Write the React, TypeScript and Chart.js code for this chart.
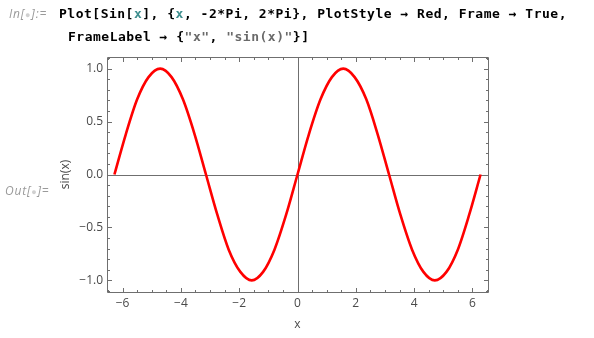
import React, { useEffect, useRef } from 'react';
import { Chart, registerables } from 'chart.js';

Chart.register(...registerables);

// Points
const xValues = [
  -6.28, -5.89, -5.5, -5.11, -4.71, -4.32, -3.93, -3.53, -3.14, -2.75, -2.36, -1.96, -1.57, -1.18, -0.79, -0.39,
  0, 0.39, 0.79, 1.18, 1.57, 1.96, 2.36, 2.75, 3.14, 3.53, 3.93, 4.32, 4.71, 5.11, 5.5, 5.89, 6.28,
];
const sinValues = [
  0, 0.38, 0.71, 0.92, 1.0, 0.92, 0.71, 0.38, 0, -0.38, -0.71, -0.92, -1.0, -0.92, -0.71, -0.38,
  0, 0.38, 0.71, 0.92, 1.0, 0.92, 0.71, 0.38, 0, -0.38, -0.71, -0.92, -1.0, -0.92, -0.71, -0.38, 0,
];

const xMajorTicks = [-6, -4, -2, 0, 2, 4, 6];
const xMinorTicks = [-6.5, -5.5, -5, -4.5, -3.5, -3, -2.5, -1.5, -1, -0.5, 0.5, 1, 1.5, 2.5, 3, 3.5, 4.5, 5, 5.5, 6.5];
const yMajorTicks = [-1, -0.5, 0, 0.5, 1];
const yMinorTicks = [-1.1, -0.9, -0.8, -0.7, -0.6, -0.4, -0.3, -0.2, -0.1, 0.1, 0.2, 0.3, 0.4, 0.6, 0.7, 0.8, 0.9, 1.1];
const xRange = [-6.535, 6.535];
const yRange = [-1.11, 1.11];

const xAxisLabel = 'x';
const yAxisLabel = 'sin(x)';

const FRAME = '#6f6f6f';
const LABEL = '#4a4a4a';

const fmt = (v: number, d: number) => (v < 0 ? '\u2212' : '') + Math.abs(v).toFixed(d);

const framePlugin = {
  id: 'mmaFrame',
  beforeDatasetsDraw(chart: any) {
    const { ctx, chartArea: a, scales } = chart;
    const px = Math.round(scales.x.getPixelForValue(0)) + 0.5;
    const py = Math.round(scales.y.getPixelForValue(0)) + 0.5;
    ctx.save();
    ctx.strokeStyle = FRAME;
    ctx.lineWidth = 1;
    ctx.beginPath();
    ctx.moveTo(px, a.top);
    ctx.lineTo(px, a.bottom);
    ctx.moveTo(a.left, py);
    ctx.lineTo(a.right, py);
    ctx.stroke();
    ctx.restore();
  },
  afterDatasetsDraw(chart: any) {
    const { ctx, chartArea: a, scales } = chart;
    const L = Math.round(a.left) + 0.5;
    const R = Math.round(a.right) + 0.5;
    const T = Math.round(a.top) + 0.5;
    const B = Math.round(a.bottom) + 0.5;
    ctx.save();
    ctx.strokeStyle = FRAME;
    ctx.lineWidth = 1;
    ctx.beginPath();
    ctx.rect(L, T, R - L, B - T);
    const xt = (v: number, len: number) => {
      const p = Math.round(scales.x.getPixelForValue(v)) + 0.5;
      ctx.moveTo(p, B);
      ctx.lineTo(p, B - len);
      ctx.moveTo(p, T);
      ctx.lineTo(p, T + len);
    };
    const yt = (v: number, len: number) => {
      const p = Math.round(scales.y.getPixelForValue(v)) + 0.5;
      ctx.moveTo(L, p);
      ctx.lineTo(L + len, p);
      ctx.moveTo(R, p);
      ctx.lineTo(R - len, p);
    };
    xMajorTicks.forEach((v) => xt(v, 4.5));
    xMinorTicks.forEach((v) => xt(v, 2.5));
    yMajorTicks.forEach((v) => yt(v, 4.5));
    yMinorTicks.forEach((v) => yt(v, 2.5));
    ctx.stroke();
    ctx.restore();
  },
};

function SinChart() {
  const ref = useRef<HTMLCanvasElement | null>(null);
  useEffect(() => {
    if (!ref.current) return;
    const chart = new Chart(ref.current, {
      type: 'line',
      data: {
        datasets: [
          {
            data: xValues.map((x, i) => ({ x, y: sinValues[i] })),
            borderColor: '#ff0000',
            borderWidth: 2.6,
            pointRadius: 0,
            fill: false,
            cubicInterpolationMode: 'monotone',
          },
        ],
      },
      options: {
        responsive: false,
        animation: false,
        layout: { padding: { left: 0, top: 57, right: 106, bottom: 0 } },
        plugins: { legend: { display: false }, tooltip: { enabled: false } },
        scales: {
          x: {
            type: 'linear',
            min: xRange[0],
            max: xRange[1],
            grid: { display: false, drawTicks: false },
            border: { display: false },
            afterBuildTicks: (s: any) => {
              s.ticks = xMajorTicks.map((value) => ({ value }));
            },
            afterFit: (s: any) => {
              s.height = 46;
            },
            ticks: {
              padding: 4,
              color: LABEL,
              maxRotation: 0,
              autoSkip: false,
              font: { family: 'Open Sans', size: 12 },
              callback: (v: any) => fmt(Number(v), 0),
            },
            title: {
              display: true,
              text: xAxisLabel,
              color: LABEL,
              font: { family: 'Open Sans', size: 12 },
              padding: { top: 0, bottom: 6 },
            },
          },
          y: {
            type: 'linear',
            min: yRange[0],
            max: yRange[1],
            grid: { display: false, drawTicks: false },
            border: { display: false },
            afterBuildTicks: (s: any) => {
              s.ticks = yMajorTicks.map((value) => ({ value }));
            },
            afterFit: (s: any) => {
              s.width = 107;
            },
            ticks: {
              padding: 4,
              color: LABEL,
              autoSkip: false,
              font: { family: 'Open Sans', size: 12 },
              callback: (v: any) => fmt(Number(v), 1),
            },
            title: {
              display: true,
              text: yAxisLabel,
              color: LABEL,
              font: { family: 'Open Sans', size: 12 },
              padding: { top: 58, bottom: 0 },
            },
          },
        },
      },
      plugins: [framePlugin],
    } as any);
    return () => chart.destroy();
  }, []);
  return (
    <canvas
      ref={ref}
      width={594}
      height={338}
      style={{ position: 'absolute', left: 0, top: 0, width: 594, height: 338 }}
    />
  );
}

const code: React.CSSProperties = {
  position: 'absolute',
  fontFamily: '"DejaVu Sans Mono", monospace',
  fontWeight: 'bold',
  fontSize: 13,
  letterSpacing: '0.5px',
  lineHeight: '15px',
  whiteSpace: 'pre',
  color: '#000',
};
const label: React.CSSProperties = {
  position: 'absolute',
  fontFamily: '"Open Sans", sans-serif',
  fontStyle: 'italic',
  fontSize: 12,
  letterSpacing: '0.8px',
  lineHeight: '15px',
  color: '#9a9a9a',
  whiteSpace: 'pre',
};
const VAR = '#3f8f8f';
const STR = '#6a6a6a';
const DOT = '#d0d0d0';
const dot: React.CSSProperties = { color: DOT, fontSize: 9, fontStyle: 'normal' };

export default function App() {
  return (
    <div style={{ position: 'fixed', left: 0, top: 0, width: 594, height: 338, background: '#fff', overflow: 'hidden' }}>
      <SinChart />
      <div style={{ ...label, left: 9, top: 6 }}>
        In[<span style={dot}>●</span>]:=
      </div>
      <div style={{ ...code, left: 59, top: 6 }}>
        Plot[Sin[<span style={{ color: VAR }}>x</span>], {'{'}
        <span style={{ color: VAR }}>x</span>, -2*Pi, 2*Pi{'}'}, PlotStyle → Red, Frame → True,
      </div>
      <div style={{ ...code, left: 68, top: 29 }}>
        FrameLabel → {'{'}
        <span style={{ color: STR }}>"x"</span>, <span style={{ color: STR }}>"sin(x)"</span>
        {'}'}]
      </div>
      <div style={{ ...label, left: 5, top: 183 }}>
        Out[<span style={dot}>●</span>]=
      </div>
    </div>
  );
}
